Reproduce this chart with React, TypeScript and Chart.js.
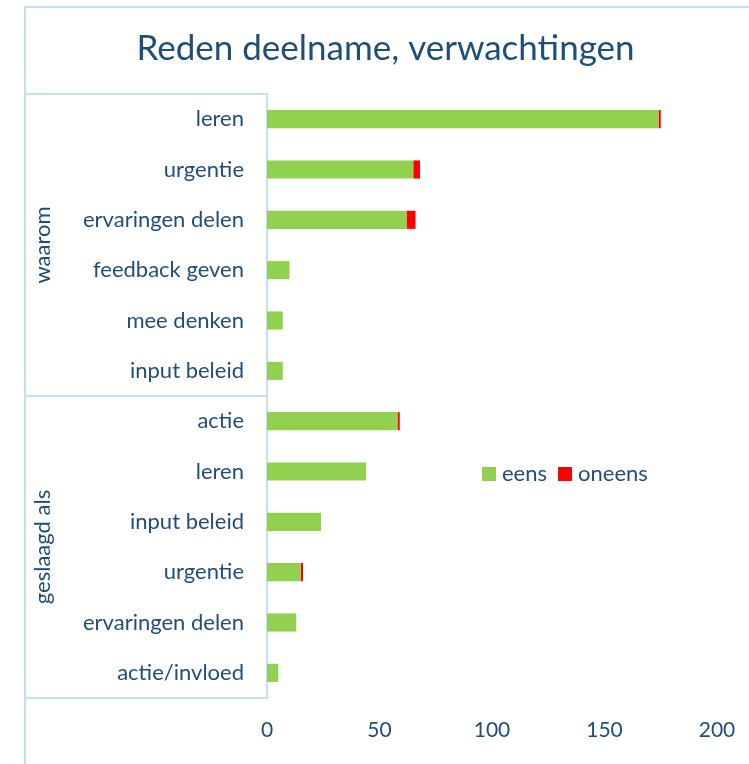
import React, { useEffect, useRef } from "react";
import { Chart, registerables } from "chart.js";

Chart.register(...registerables);

const title = "Reden deelname, verwachtingen";
const categories = [
  "leren",
  "urgentie",
  "ervaringen delen",
  "feedback geven",
  "mee denken",
  "input beleid",
  "actie",
  "leren",
  "input beleid",
  "urgentie",
  "ervaringen delen",
  "actie/invloed",
];
const groups = ["waarom", "geslaagd als"];
const groupSizes = [6, 6];
const eens = [174, 65, 62, 10, 7, 7, 58, 44, 24, 15, 13, 5];
const oneens = [1, 3, 4, 0, 0, 0, 1, 0, 0, 1, 0, 0];
const seriesNames = ["eens", "oneens"];
const xMin = 0;
const xMax = 200;
const xStep = 50;

const TEXT = "#1F4E79";
const FRAME = "#C5DFF8";
const GREEN = "#92D050";
const RED = "#FF0000";
const FONT = "Lato, 'Open Sans', sans-serif";

const decorPlugin = {
  id: "decor",
  beforeDraw(chart: any) {
    const ctx = chart.ctx;
    ctx.save();
    ctx.fillStyle = "#ffffff";
    ctx.fillRect(0, 0, chart.width, chart.height);
    ctx.strokeStyle = FRAME;
    ctx.lineWidth = 2;
    ctx.strokeRect(25, 7, chart.width + 50, chart.height + 50);
    ctx.restore();
  },
  afterDraw(chart: any) {
    const ctx = chart.ctx;
    const y = chart.scales.y;
    const area = chart.chartArea;
    const frameLeft = 24;
    ctx.save();
    const bounds: number[] = [y.top];
    let idx = 0;
    groupSizes.forEach((n) => {
      idx += n;
      if (idx >= categories.length) bounds.push(y.bottom);
      else bounds.push((y.getPixelForValue(idx - 1) + y.getPixelForValue(idx)) / 2);
    });
    ctx.strokeStyle = FRAME;
    ctx.lineWidth = 2;
    bounds.forEach((b) => {
      ctx.beginPath();
      ctx.moveTo(frameLeft, b);
      ctx.lineTo(area.left, b);
      ctx.stroke();
    });
    ctx.fillStyle = TEXT;
    ctx.font = `22px ${FONT}`;
    ctx.textAlign = "center";
    ctx.textBaseline = "middle";
    groups.forEach((g, i) => {
      const cy = (bounds[i] + bounds[i + 1]) / 2;
      ctx.save();
      ctx.translate(43, cy);
      ctx.rotate(-Math.PI / 2);
      ctx.fillText(g, 0, 0);
      ctx.restore();
    });
    const lx = area.left + 215;
    const ly = area.top + 380;
    const box = 14;
    let x = lx;
    ctx.textAlign = "left";
    ctx.font = `22px ${FONT}`;
    chart.data.datasets.forEach((ds: any) => {
      ctx.fillStyle = ds.backgroundColor;
      ctx.fillRect(x, ly - box / 2, box, box);
      x += box + 6;
      ctx.fillStyle = TEXT;
      ctx.fillText(ds.label, x, ly);
      x += ctx.measureText(ds.label).width + 11;
    });
    ctx.restore();
  },
};

export default function App() {
  const ref = useRef<HTMLCanvasElement | null>(null);
  useEffect(() => {
    if (!ref.current) return;
    const chart = new Chart(ref.current, {
      type: "bar",
      data: {
        labels: categories,
        datasets: [
          {
            label: seriesNames[0],
            data: eens,
            backgroundColor: GREEN,
            barPercentage: 0.36,
            categoryPercentage: 1,
          },
          {
            label: seriesNames[1],
            data: oneens,
            backgroundColor: RED,
            barPercentage: 0.36,
            categoryPercentage: 1,
          },
        ],
      },
      options: {
        indexAxis: "y",
        responsive: false,
        maintainAspectRatio: false,
        animation: false,
        layout: { padding: { left: 54, right: 32, top: 0, bottom: 0 } },
        plugins: {
          legend: { display: false },
          tooltip: { enabled: false },
          title: {
            display: true,
            text: title,
            color: TEXT,
            font: { family: FONT, size: 35, weight: "normal" },
            padding: { top: 28, bottom: 24 },
          },
        },
        scales: {
          x: {
            stacked: true,
            min: xMin,
            max: xMax,
            grid: { display: false, drawTicks: false },
            border: { display: false },
            ticks: {
              stepSize: xStep,
              color: TEXT,
              font: { family: FONT, size: 21 },
              padding: 20,
              maxRotation: 0,
            },
            afterFit(scale: any) {
              scale.height = 66;
              scale.paddingLeft = 0;
              scale.paddingRight = 0;
            },
          },
          y: {
            stacked: true,
            grid: { display: false, drawTicks: false },
            border: { display: true, color: FRAME, width: 2 },
            ticks: {
              color: TEXT,
              font: { family: FONT, size: 22 },
              padding: 23,
              autoSkip: false,
            },
            afterFit(scale: any) {
              scale.width = 213;
              scale.paddingTop = 0;
              scale.paddingBottom = 0;
            },
          },
        },
      },
      plugins: [decorPlugin],
    });
    return () => chart.destroy();
  }, []);
  return (
    <div style={{ position: "absolute", left: 0, top: 0, width: 749, height: 764 }}>
      <canvas ref={ref} width={749} height={764} style={{ display: "block" }} />
    </div>
  );
}
